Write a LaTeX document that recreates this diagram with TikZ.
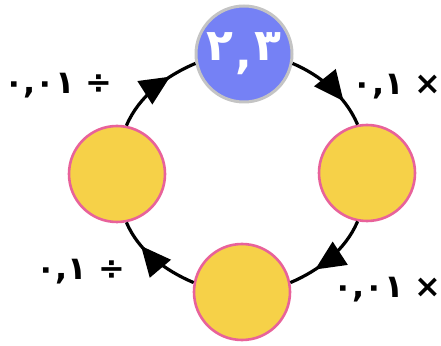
\documentclass[tikz,border=0pt]{standalone}
\usepackage{fontspec}
\newfontfamily\arabicfont[Script=Arabic]{DejaVu Sans}
\usetikzlibrary{arrows.meta,decorations.markings}
\definecolor{topblue}{HTML}{7581F5}
\definecolor{topedge}{HTML}{C4C4C4}
\definecolor{sunfill}{HTML}{F6D148}
\definecolor{sunedge}{HTML}{E8629A}
\tikzset{
  stage/.style={circle,minimum size=96pt,inner sep=0pt,line width=2.6pt},
  startstage/.style={stage,fill=topblue,draw=topedge,line width=3pt,text=white,
    font=\arabicfont\bfseries\fontsize{44}{44}\selectfont},
  sunstage/.style={stage,fill=sunfill,draw=sunedge},
  ring/.style={line width=3.2pt,black,looseness=0.88,
    postaction={decorate},
    decoration={markings,mark=at position 0.7 with {\arrow{Triangle[length=30pt,width=27pt]}}}},
  oplabel/.style={font=\arabicfont\bfseries\fontsize{32}{32}\selectfont,inner sep=0pt}
}
\begin{document}
\begin{tikzpicture}[x=1pt,y=1pt]
\useasboundingbox (0,0) rectangle (441,345);
\node[startstage] (top) at (244,291) {٢\hspace{2pt}\raisebox{-8pt}{,}\hspace{2pt}٣};
\node[sunstage] (right) at (367,172) {};
\node[sunstage] (bottom) at (242,53) {};
\node[sunstage] (left) at (117,171) {};
\draw[ring] (top.-11) to[out=-23,in=113] (right.101);
\draw[ring] (right.-101) to[out=-113,in=23] (bottom.11);
\draw[ring] (bottom.169) to[out=157,in=-67] (left.-79);
\draw[ring] (left.79) to[out=67,in=-157] (top.-169);
\node[oplabel,anchor=base east] (lab1) at (442,250) {٠,١\hspace{11pt}×};
\node[oplabel,anchor=base east] (lab2) at (442,47) {٠,٠١\hspace{11pt}×};
\node[oplabel,anchor=base west] (lab3) at (36,65) {٠,١\hspace{11pt}÷};
\node[oplabel,anchor=base west] (lab4) at (4,251) {٠,٠١\hspace{11pt}÷};
\end{tikzpicture}
\end{document}
